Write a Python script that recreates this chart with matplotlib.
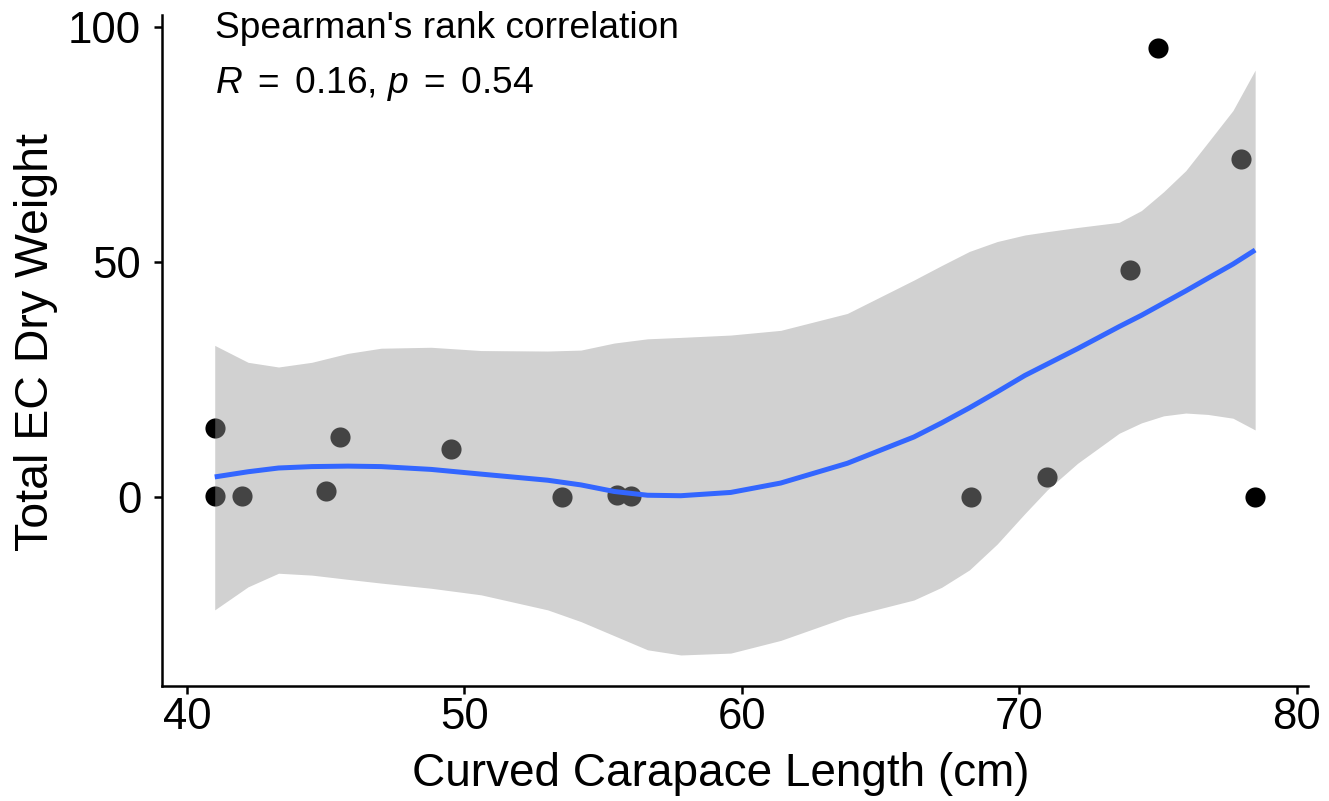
import matplotlib
matplotlib.use("Agg")
import matplotlib.pyplot as plt

plt.rcParams['font.family'] = ['Liberation Sans', 'DejaVu Sans']
plt.rcParams['mathtext.fontset'] = 'custom'
plt.rcParams['mathtext.rm'] = 'Liberation Sans'
plt.rcParams['mathtext.it'] = 'Liberation Sans:italic'

# observed points
ccl = [41, 41, 42, 45, 45.5, 49.5, 53.5, 55.5, 56, 68.25, 71, 74, 75, 78, 78.5]
ec_weight = [14.7, 0.2, 0.2, 1.3, 12.8, 10.2, 0.0, 0.4, 0.2, 0.0, 4.3, 48.3, 95.5, 71.9, 0.0]

# loess fit and its confidence band
fit_x = [41, 42.2, 43.3, 44.5, 45.8, 47, 48.8, 50.6, 53, 54.2, 55.4, 56.6, 57.8,
         59.6, 61.4, 63.8, 66.2, 67.2, 68.2, 69.2, 70.2, 71, 72.1, 73.6, 74.4,
         75.2, 76, 76.8, 77.7, 78.5]
fit_y = [4.3, 5.4, 6.2, 6.5, 6.6, 6.5, 5.9, 4.9, 3.6, 2.6, 1.2, 0.4, 0.3,
         1.0, 3.0, 7.2, 12.8, 15.8, 19.0, 22.4, 25.9, 28.3, 31.6, 36.3, 38.7,
         41.3, 43.9, 46.6, 49.6, 52.6]
fit_hi = [32.3, 28.7, 27.7, 28.7, 30.6, 31.7, 31.9, 31.2, 31.1, 31.3, 32.8, 33.7, 34.0,
          34.5, 35.5, 39.1, 46.2, 49.3, 52.3, 54.4, 55.8, 56.5, 57.4, 58.5, 61.0,
          65.0, 69.5, 75.5, 82.3, 90.9]
fit_lo = [-24.0, -19.1, -16.2, -16.6, -17.5, -18.3, -19.4, -20.8, -24.0, -26.5, -29.5, -32.5, -33.6,
          -33.2, -30.5, -25.5, -21.9, -19.2, -15.5, -10.0, -3.5, 1.5, 7.2, 13.6, 15.8,
          17.3, 17.9, 17.6, 16.8, 14.3]

fig = plt.figure(figsize=(13.29, 8.01), dpi=100)
ax = fig.add_axes([0.1219, 0.1436, 0.8622, 0.8375])

ax.scatter(ccl, ec_weight, s=210, color='black', linewidths=0, zorder=2)
ax.fill_between(fit_x, fit_lo, fit_hi, color='#999999', alpha=0.45, linewidth=0, zorder=3)
ax.plot(fit_x, fit_y, color='#3366FF', linewidth=3.6, zorder=4,
        solid_capstyle='butt', solid_joinstyle='round')

ax.set_xlim(39.1, 80.4)
ax.set_ylim(-40.2, 102.6)
ax.set_xticks([40, 50, 60, 70, 80])
ax.set_yticks([0, 50, 100])

for s in ['top', 'right']:
    ax.spines[s].set_visible(False)
for s in ['left', 'bottom']:
    ax.spines[s].set_linewidth(1.8)
ax.tick_params(labelsize=31.5, width=1.8, length=6, colors='black')
ax.tick_params(axis='x', pad=2)
ax.tick_params(axis='y', pad=9)

ax.set_xlabel('Curved Carapace Length (cm)', fontsize=33)
ax.set_ylabel('Total EC Dry Weight', fontsize=33.5)
ax.xaxis.set_label_coords(0.488, -0.099)
ax.yaxis.set_label_coords(-0.0908, 0.513)

ax.text(41, 97.8, "Spearman's rank correlation", fontsize=26.7, va='baseline')
ax.text(41, 86.0, r'$R$$\,$ = $\,$0.16, $p$$\,$ = $\,$0.54', fontsize=26.7, va='baseline')

fig.savefig('out.png', dpi=100)
